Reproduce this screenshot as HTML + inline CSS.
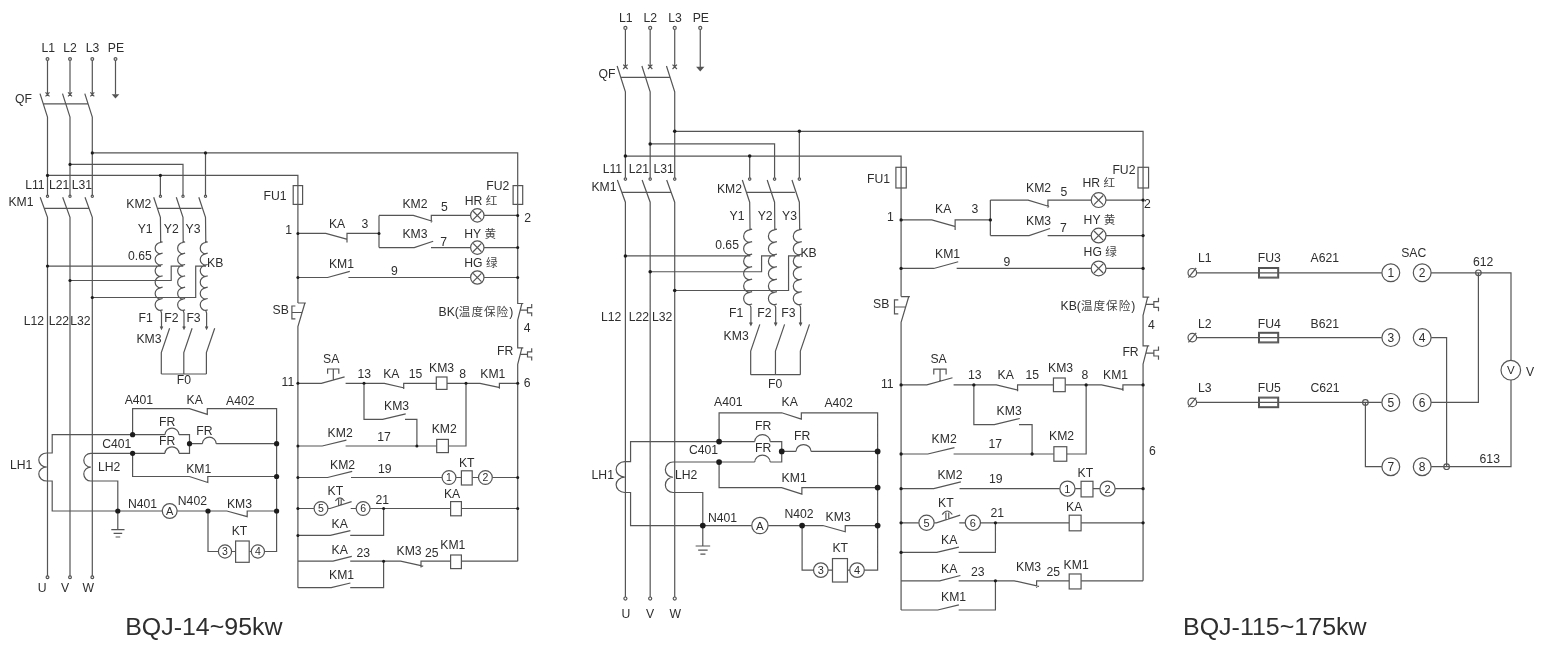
<!DOCTYPE html>
<html lang="zh"><head><meta charset="utf-8"><title>BQJ wiring diagram</title>
<style>
html,body{margin:0;padding:0;background:#fff;}
body{width:1553px;height:655px;overflow:hidden;}
svg{display:block;will-change:transform;}
svg text{font-family:"Liberation Sans","Noto Sans CJK SC",sans-serif;fill:#2e2e2e;}
svg .cj{font-size:11.6px;font-weight:400;letter-spacing:1px;fill:#444;}
</style></head><body>
<svg width="1553" height="655" viewBox="0 0 1553 655">
<rect width="1553" height="655" fill="#ffffff"/>
<path d="M47.5 60.4 L47.5 94.3 M45.5 92.3 L49.5 96.3 M45.5 96.3 L49.5 92.3 M40 93.6 L47.5 117 L47.5 196 M40.2 197.2 L47.5 217.3 L47.5 576 M70 60.4 L70 94.3 M68 92.3 L72 96.3 M68 96.3 L72 92.3 M62.5 93.6 L70 117 L70 196 M62.7 197.2 L70 217.3 L70 576 M92.3 60.4 L92.3 94.3 M90.3 92.3 L94.3 96.3 M90.3 96.3 L94.3 92.3 M84.8 93.6 L92.3 117 L92.3 196 M85 197.2 L92.3 217.3 L92.3 576 M43.5 103.9 L87.5 103.9 M44 208.4 L89.5 208.4 M115.5 60.4 L115.5 94.5 M92.3 152.9 L517.7 152.9 L517.7 185.6 M70 164.4 L183 164.4 L183 196 M47.5 175.4 L297.9 175.4 L297.9 303 M160.4 175.4 L160.4 196 M205.5 152.9 L205.5 196 M153.7 197.2 L160.4 217.3 L160.7 242.5 M176.3 197.2 L183 217.3 L183.2 242.5 M198.8 197.2 L205.5 217.3 L205.8 242.5 M157 208.4 L201.5 208.4 M160.7 242.5 a5.8 5.67 0 0 0 0 11.33 a5.8 5.67 0 0 0 0 11.33 a5.8 5.67 0 0 0 0 11.33 a5.8 5.67 0 0 0 0 11.33 a5.8 5.67 0 0 0 0 11.33 a5.8 5.67 0 0 0 0 11.33 M159.9 242.5 L162.6 241.8 M159.9 253.83 L162.6 253.13 M159.9 265.17 L162.6 264.47 M159.9 276.5 L162.6 275.8 M159.9 287.83 L162.6 287.13 M159.9 299.17 L162.6 298.47 M159.9 310.5 L162.6 309.8 M160.7 310.5 L161.5 313 L161.5 328.5 M160.3 326.6 L161.5 329 L162.7 326.6 M169.6 328.3 L161.3 352.6 L161.3 374 M183.2 242.5 a5.8 5.67 0 0 0 0 11.33 a5.8 5.67 0 0 0 0 11.33 a5.8 5.67 0 0 0 0 11.33 a5.8 5.67 0 0 0 0 11.33 a5.8 5.67 0 0 0 0 11.33 a5.8 5.67 0 0 0 0 11.33 M182.4 242.5 L185.1 241.8 M182.4 253.83 L185.1 253.13 M182.4 265.17 L185.1 264.47 M182.4 276.5 L185.1 275.8 M182.4 287.83 L185.1 287.13 M182.4 299.17 L185.1 298.47 M182.4 310.5 L185.1 309.8 M183.2 310.5 L184 313 L184 328.5 M182.8 326.6 L184 329 L185.2 326.6 M192.1 328.3 L183.8 352.6 L183.8 374 M205.8 242.5 a5.8 5.67 0 0 0 0 11.33 a5.8 5.67 0 0 0 0 11.33 a5.8 5.67 0 0 0 0 11.33 a5.8 5.67 0 0 0 0 11.33 a5.8 5.67 0 0 0 0 11.33 a5.8 5.67 0 0 0 0 11.33 M205 242.5 L207.7 241.8 M205 253.83 L207.7 253.13 M205 265.17 L207.7 264.47 M205 276.5 L207.7 275.8 M205 287.83 L207.7 287.13 M205 299.17 L207.7 298.47 M205 310.5 L207.7 309.8 M205.8 310.5 L206.6 313 L206.6 328.5 M205.4 326.6 L206.6 329 L207.8 326.6 M214.7 328.3 L206.4 352.6 L206.4 374 M161.3 374 L206.4 374 M47.5 266.1 L161 266.1 M70 280.5 L171.2 280.5 L171.2 266.1 L183.3 266.1 M92.3 297.5 L195.7 297.5 L195.7 266.1 L206 266.1 M132.6 434.7 L132.6 408.6 L189.5 408.6 L207.3 414.4 L207.3 408.6 L276.6 408.6 L276.6 551.5 L264.4 551.5 M132.6 434.7 L52.2 434.7 L52.2 453 L46.8 453 M46.8 453 a8 7 0 0 0 0 14 a8 7 0 0 0 0 14 M46.8 481 L52.2 481 L52.2 511 L162.2 511 M132.6 434.7 L165 434.7 M165 434.7 a7 6.5 0 0 1 14 0 M179 434.7 L189.5 434.7 L189.5 453.3 L179 453.3 M165 453.3 a7 6.5 0 0 1 14 0 M165 453.3 L90.8 453.3 M90.8 453.3 a7 6.92 0 0 0 0 13.85 a7 6.92 0 0 0 0 13.85 M90.8 481 L117.8 481 L117.8 529.6 M111.3 529.6 L124.5 529.6 M113.6 533.3 L122.2 533.3 M115.6 537 L120.2 537 M189.5 443.7 L202.4 443.7 M202.4 443.7 a6.9 6.5 0 0 1 13.8 0 M216.2 443.7 L276.6 443.7 M132.6 453.3 L132.6 476.5 L189.4 476.5 L207.8 482.5 L207.8 476.5 L276.6 476.5 M177.2 511 L226.9 511 L247.2 516.6 L247.2 511 L276.6 511 M208 511 L208 551.5 L218.6 551.5 M231.4 551.5 L235.6 551.5 M249.2 551.5 L251.5 551.5 M517.7 185.6 L517.7 303.5 L523.3 303.5 M521.9 303.5 L517.7 320 L517.7 347.8 L523.3 347.8 M521.9 347.8 L517.7 364.3 L517.7 561.2 M520 310.2 L527.5 310.2 M531.7 304.1 L531.7 307.6 L527.5 307.6 L527.5 312.8 L531.7 312.8 L531.7 316.3 M520 354.4 L527.5 354.4 M531.7 348.3 L531.7 351.8 L527.5 351.8 L527.5 357 L531.7 357 L531.7 360.5 M297.9 303 L305.9 303 M304.9 303 L297.9 326.5 L297.9 587.7 M295.4 306 L291.9 306 L291.9 318.8 L295.4 318.8 M291.9 312.5 L302.1 312.5 M297.9 233.4 L325.8 233.4 L346.6 239.2 M347 242.6 L347 233.4 L379 233.4 M379 215.4 L379 247.6 M379 215.4 L413.3 215.4 L432.4 221.2 M431.3 222.4 L431.3 215.4 L470.6 215.4 M484 215.4 L517.7 215.4 M379 247.6 L414.2 247.6 L433.2 241.2 M431 247.6 L470.6 247.6 M484 247.6 L517.7 247.6 M297.9 277.5 L327.6 277.5 L349.8 271.4 M348.4 277.5 L470.6 277.5 M484 277.5 L517.7 277.5 M297.9 383.3 L321.3 383.3 L344.6 376.8 M345.6 383.3 L384.4 383.3 L404.4 388 M403.7 389 L403.7 383.3 L436.3 383.3 M447 383.3 L480 383.3 L500 387.6 M499.4 388.8 L499.4 383.3 L517.7 383.3 M327.6 373.8 L327.6 369 L338.8 369 L338.8 373.8 M333.3 369 L333.3 379.8 M364 383.3 L364 419.3 L382.6 419.3 L405.7 413.8 M405 419.3 L416.9 419.3 L416.9 446 M297.9 446 L322.2 446 L346.4 440.2 M345.6 446 L436.7 446 M448.4 446 L466 446 L466 383.3 M297.9 477.5 L327.6 477.5 L352.2 471.4 M351 477.5 L442 477.5 M456 477.5 L461.4 477.5 M472.2 477.5 L478.5 477.5 M492.3 477.5 L517.7 477.5 M297.9 508.5 L314 508.5 M328 508.5 L330 508.5 L351.6 501.6 M350.7 508.5 L356.2 508.5 M370 508.5 L450.6 508.5 M461.4 508.5 L517.7 508.5 M338.6 506 L338.6 499.2 M341.2 505.2 L341.2 499.2 M335.3 501 Q339.9 494.6 344.4 501 M297.9 535.4 L330.3 535.4 L350.4 530.6 M350.2 535.4 L383.6 535.4 L383.6 508.5 M297.9 561.2 L333 561.2 L351.8 556.4 M350.2 561.2 L400.6 561.2 L423.2 566.2 M421 567.4 L421 561.2 L450.6 561.2 M461.4 561.2 L517.7 561.2 M297.9 587.7 L331.2 587.7 L350.4 583 M350.2 587.7 L383.6 587.7 L383.6 561.2" fill="none" stroke="#555555" stroke-width="1.2" stroke-linecap="butt" stroke-linejoin="miter"/>
<circle cx="47.5" cy="59" r="1.4" fill="#fff" stroke="#555555" stroke-width="1.2"/>
<circle cx="47.5" cy="196.3" r="1.1" fill="#fff" stroke="#555555" stroke-width="1.2"/>
<circle cx="47.5" cy="577.3" r="1.4" fill="#fff" stroke="#555555" stroke-width="1.2"/>
<circle cx="70" cy="59" r="1.4" fill="#fff" stroke="#555555" stroke-width="1.2"/>
<circle cx="70" cy="196.3" r="1.1" fill="#fff" stroke="#555555" stroke-width="1.2"/>
<circle cx="70" cy="577.3" r="1.4" fill="#fff" stroke="#555555" stroke-width="1.2"/>
<circle cx="92.3" cy="59" r="1.4" fill="#fff" stroke="#555555" stroke-width="1.2"/>
<circle cx="92.3" cy="196.3" r="1.1" fill="#fff" stroke="#555555" stroke-width="1.2"/>
<circle cx="92.3" cy="577.3" r="1.4" fill="#fff" stroke="#555555" stroke-width="1.2"/>
<circle cx="115.5" cy="59" r="1.4" fill="#fff" stroke="#555555" stroke-width="1.2"/>
<path d="M111.7 94.3 L119.3 94.3 L115.5 98.6 Z" fill="#555555"/>
<circle cx="92.3" cy="152.9" r="1.6" fill="#1c1c1c"/>
<circle cx="205.5" cy="152.9" r="1.6" fill="#1c1c1c"/>
<circle cx="70" cy="164.4" r="1.6" fill="#1c1c1c"/>
<circle cx="47.5" cy="175.4" r="1.6" fill="#1c1c1c"/>
<circle cx="160.4" cy="175.4" r="1.6" fill="#1c1c1c"/>
<circle cx="160.4" cy="196.3" r="1.1" fill="#fff" stroke="#555555" stroke-width="1.2"/>
<circle cx="183" cy="196.3" r="1.1" fill="#fff" stroke="#555555" stroke-width="1.2"/>
<circle cx="205.5" cy="196.3" r="1.1" fill="#fff" stroke="#555555" stroke-width="1.2"/>
<circle cx="47.5" cy="266.1" r="1.6" fill="#1c1c1c"/>
<circle cx="70" cy="280.5" r="1.6" fill="#1c1c1c"/>
<circle cx="92.3" cy="297.5" r="1.6" fill="#1c1c1c"/>
<rect x="235.6" y="541" width="13.6" height="21.3" fill="#fff" stroke="#555555" stroke-width="1.2"/>
<circle cx="169.7" cy="511" r="7.4" fill="#fff" stroke="#555555" stroke-width="1.2"/>
<circle cx="225" cy="551.5" r="6.6" fill="#fff" stroke="#555555" stroke-width="1.2"/>
<circle cx="257.9" cy="551.5" r="6.6" fill="#fff" stroke="#555555" stroke-width="1.2"/>
<circle cx="132.6" cy="434.7" r="2.6" fill="#1c1c1c"/>
<circle cx="132.6" cy="453.3" r="2.6" fill="#1c1c1c"/>
<circle cx="189.5" cy="443.7" r="2.6" fill="#1c1c1c"/>
<circle cx="276.6" cy="443.7" r="2.6" fill="#1c1c1c"/>
<circle cx="276.6" cy="476.5" r="2.6" fill="#1c1c1c"/>
<circle cx="276.6" cy="511" r="2.6" fill="#1c1c1c"/>
<circle cx="208" cy="511" r="2.6" fill="#1c1c1c"/>
<circle cx="117.8" cy="511" r="2.6" fill="#1c1c1c"/>
<rect x="293.2" y="185.6" width="9.4" height="18.8" fill="none" stroke="#555555" stroke-width="1.2"/>
<rect x="513.1" y="185.6" width="9.6" height="18.8" fill="none" stroke="#555555" stroke-width="1.2"/>
<circle cx="477.3" cy="215.4" r="6.7" fill="#fff" stroke="#555555" stroke-width="1.2"/>
<path d="M473.15 211.25 L481.45 219.55 M473.15 219.55 L481.45 211.25" stroke="#555555" stroke-width="1.2" fill="none"/>
<circle cx="477.3" cy="247.6" r="6.7" fill="#fff" stroke="#555555" stroke-width="1.2"/>
<path d="M473.15 243.45 L481.45 251.75 M473.15 251.75 L481.45 243.45" stroke="#555555" stroke-width="1.2" fill="none"/>
<circle cx="477.3" cy="277.5" r="6.7" fill="#fff" stroke="#555555" stroke-width="1.2"/>
<path d="M473.15 273.35 L481.45 281.65 M473.15 281.65 L481.45 273.35" stroke="#555555" stroke-width="1.2" fill="none"/>
<rect x="436.3" y="377" width="10.7" height="12.4" fill="#fff" stroke="#555555" stroke-width="1.2"/>
<rect x="436.7" y="439.4" width="11.7" height="13.2" fill="#fff" stroke="#555555" stroke-width="1.2"/>
<rect x="461.4" y="470.8" width="10.8" height="14.2" fill="#fff" stroke="#555555" stroke-width="1.2"/>
<circle cx="449" cy="477.5" r="6.9" fill="#fff" stroke="#555555" stroke-width="1.2"/>
<circle cx="485.4" cy="477.5" r="6.9" fill="#fff" stroke="#555555" stroke-width="1.2"/>
<rect x="450.6" y="501.6" width="10.8" height="14.2" fill="#fff" stroke="#555555" stroke-width="1.2"/>
<circle cx="321" cy="508.5" r="6.9" fill="#fff" stroke="#555555" stroke-width="1.2"/>
<circle cx="363.1" cy="508.5" r="6.9" fill="#fff" stroke="#555555" stroke-width="1.2"/>
<rect x="450.6" y="555" width="10.8" height="13.6" fill="#fff" stroke="#555555" stroke-width="1.2"/>
<circle cx="297.9" cy="233.4" r="1.5" fill="#1c1c1c"/>
<circle cx="297.9" cy="277.5" r="1.5" fill="#1c1c1c"/>
<circle cx="297.9" cy="383.3" r="1.5" fill="#1c1c1c"/>
<circle cx="297.9" cy="446" r="1.5" fill="#1c1c1c"/>
<circle cx="297.9" cy="477.5" r="1.5" fill="#1c1c1c"/>
<circle cx="297.9" cy="508.5" r="1.5" fill="#1c1c1c"/>
<circle cx="297.9" cy="535.4" r="1.5" fill="#1c1c1c"/>
<circle cx="517.7" cy="215.4" r="1.5" fill="#1c1c1c"/>
<circle cx="517.7" cy="247.6" r="1.5" fill="#1c1c1c"/>
<circle cx="517.7" cy="277.5" r="1.5" fill="#1c1c1c"/>
<circle cx="517.7" cy="383.3" r="1.5" fill="#1c1c1c"/>
<circle cx="517.7" cy="477.5" r="1.5" fill="#1c1c1c"/>
<circle cx="517.7" cy="508.5" r="1.5" fill="#1c1c1c"/>
<circle cx="379" cy="233.4" r="1.5" fill="#1c1c1c"/>
<circle cx="364" cy="383.3" r="1.5" fill="#1c1c1c"/>
<circle cx="466" cy="383.3" r="1.5" fill="#1c1c1c"/>
<circle cx="416.9" cy="446" r="1.5" fill="#1c1c1c"/>
<circle cx="383.6" cy="508.5" r="1.5" fill="#1c1c1c"/>
<circle cx="383.6" cy="561.2" r="1.5" fill="#1c1c1c"/>
<path d="M625.4 29.45 L625.4 66.77 M623.19 64.57 L627.6 68.97 M623.19 68.97 L627.6 64.57 M617.14 66 L625.4 91.76 L625.4 178.74 M617.36 180.06 L625.4 202.19 L625.4 597.1 M650.17 29.45 L650.17 66.77 M647.97 64.57 L652.37 68.97 M647.97 68.97 L652.37 64.57 M641.91 66 L650.17 91.76 L650.17 178.74 M642.13 180.06 L650.17 202.19 L650.17 597.1 M674.72 29.45 L674.72 66.77 M672.52 64.57 L676.92 68.97 M672.52 68.97 L676.92 64.57 M666.46 66 L674.72 91.76 L674.72 178.74 M666.68 180.06 L674.72 202.19 L674.72 597.1 M620.99 77.34 L669.43 77.34 M621.54 192.39 L671.64 192.39 M700.26 29.45 L700.26 66.99 M674.72 131.29 L1143.07 131.29 L1143.07 167.29 M650.17 143.95 L774.58 143.95 L774.58 178.74 M625.4 156.06 L901.08 156.06 L901.08 296.54 M749.69 156.06 L749.69 178.74 M799.35 131.29 L799.35 178.74 M742.32 180.06 L749.69 202.19 L750.02 229.93 M767.2 180.06 L774.58 202.19 L774.8 229.93 M791.97 180.06 L799.35 202.19 L799.68 229.93 M745.95 192.39 L794.94 192.39 M750.02 229.93 a6.39 6.24 0 0 0 0 12.48 a6.39 6.24 0 0 0 0 12.48 a6.39 6.24 0 0 0 0 12.48 a6.39 6.24 0 0 0 0 12.48 a6.39 6.24 0 0 0 0 12.48 a6.39 6.24 0 0 0 0 12.48 M749.14 229.93 L752.12 229.16 M749.14 242.41 L752.12 241.64 M749.14 254.89 L752.12 254.12 M749.14 267.37 L752.12 266.59 M749.14 279.84 L752.12 279.07 M749.14 292.32 L752.12 291.55 M749.14 304.8 L752.12 304.03 M750.02 304.8 L750.91 307.55 L750.91 324.62 M749.58 322.52 L750.91 325.17 L752.23 322.52 M759.82 324.4 L750.68 351.15 L750.68 374.71 M774.8 229.93 a6.39 6.24 0 0 0 0 12.48 a6.39 6.24 0 0 0 0 12.48 a6.39 6.24 0 0 0 0 12.48 a6.39 6.24 0 0 0 0 12.48 a6.39 6.24 0 0 0 0 12.48 a6.39 6.24 0 0 0 0 12.48 M773.92 229.93 L776.89 229.16 M773.92 242.41 L776.89 241.64 M773.92 254.89 L776.89 254.12 M773.92 267.37 L776.89 266.59 M773.92 279.84 L776.89 279.07 M773.92 292.32 L776.89 291.55 M773.92 304.8 L776.89 304.03 M774.8 304.8 L775.68 307.55 L775.68 324.62 M774.36 322.52 L775.68 325.17 L777 322.52 M784.59 324.4 L775.46 351.15 L775.46 374.71 M799.68 229.93 a6.39 6.24 0 0 0 0 12.48 a6.39 6.24 0 0 0 0 12.48 a6.39 6.24 0 0 0 0 12.48 a6.39 6.24 0 0 0 0 12.48 a6.39 6.24 0 0 0 0 12.48 a6.39 6.24 0 0 0 0 12.48 M798.8 229.93 L801.77 229.16 M798.8 242.41 L801.77 241.64 M798.8 254.89 L801.77 254.12 M798.8 267.37 L801.77 266.59 M798.8 279.84 L801.77 279.07 M798.8 292.32 L801.77 291.55 M798.8 304.8 L801.77 304.03 M799.68 304.8 L800.56 307.55 L800.56 324.62 M799.24 322.52 L800.56 325.17 L801.88 322.52 M809.48 324.4 L800.34 351.15 L800.34 374.71 M750.68 374.71 L800.34 374.71 M625.4 255.92 L750.35 255.92 M650.17 271.77 L761.58 271.77 L761.58 255.92 L774.91 255.92 M674.72 290.49 L788.56 290.49 L788.56 255.92 L799.9 255.92 M719.09 441.54 L719.09 412.8 L781.73 412.8 L801.33 419.19 L801.33 412.8 L877.63 412.8 L877.63 570.13 L864.19 570.13 M719.09 441.54 L630.57 441.54 L630.57 461.68 L624.62 461.68 M624.62 461.68 a8.81 7.71 0 0 0 0 15.41 a8.81 7.71 0 0 0 0 15.41 M624.62 492.51 L630.57 492.51 L630.57 525.54 L751.68 525.54 M719.09 441.54 L754.76 441.54 M754.76 441.54 a7.71 7.16 0 0 1 15.41 0 M770.17 441.54 L781.73 441.54 L781.73 462.02 L770.17 462.02 M754.76 462.02 a7.71 7.16 0 0 1 15.41 0 M754.76 462.02 L673.07 462.02 M673.07 462.02 a7.71 7.62 0 0 0 0 15.25 a7.71 7.62 0 0 0 0 15.25 M673.07 492.51 L702.79 492.51 L702.79 546.02 M695.64 546.02 L710.17 546.02 M698.17 550.09 L707.64 550.09 M700.37 554.17 L705.44 554.17 M781.73 451.45 L795.93 451.45 M795.93 451.45 a7.6 7.16 0 0 1 15.19 0 M811.13 451.45 L877.63 451.45 M719.09 462.02 L719.09 487.56 L781.62 487.56 L801.88 494.16 L801.88 487.56 L877.63 487.56 M768.19 525.54 L822.91 525.54 L845.26 531.71 L845.26 525.54 L877.63 525.54 M802.1 525.54 L802.1 570.13 L813.77 570.13 M827.86 570.13 L832.49 570.13 M847.46 570.13 L849.99 570.13 M1143.07 167.29 L1143.07 297.09 L1149.23 297.09 M1147.69 297.09 L1143.07 315.26 L1143.07 345.86 L1149.23 345.86 M1147.69 345.86 L1143.07 364.03 L1143.07 580.81 M1145.6 304.47 L1153.86 304.47 M1158.48 297.75 L1158.48 301.61 L1153.86 301.61 L1153.86 307.33 L1158.48 307.33 L1158.48 311.18 M1145.6 353.13 L1153.86 353.13 M1158.48 346.41 L1158.48 350.27 L1153.86 350.27 L1153.86 355.99 L1158.48 355.99 L1158.48 359.85 M901.08 296.54 L909.88 296.54 M908.78 296.54 L901.08 322.41 L901.08 609.98 M898.32 299.84 L894.47 299.84 L894.47 313.94 L898.32 313.94 M894.47 307 L905.7 307 M901.08 219.91 L931.79 219.91 L954.69 226.3 M955.13 230.04 L955.13 219.91 L990.36 219.91 M990.36 200.1 L990.36 235.55 M990.36 200.1 L1028.13 200.1 L1049.16 206.48 M1047.94 207.8 L1047.94 200.1 L1091.21 200.1 M1105.96 200.1 L1143.07 200.1 M990.36 235.55 L1029.12 235.55 L1050.04 228.5 M1047.61 235.55 L1091.21 235.55 M1105.96 235.55 L1143.07 235.55 M901.08 268.47 L933.77 268.47 L958.22 261.75 M956.67 268.47 L1091.21 268.47 M1105.96 268.47 L1143.07 268.47 M901.08 384.95 L926.84 384.95 L952.49 377.79 M953.59 384.95 L996.31 384.95 L1018.33 390.12 M1017.56 391.22 L1017.56 384.95 L1053.45 384.95 M1065.23 384.95 L1101.56 384.95 L1123.58 389.68 M1122.92 391 L1122.92 384.95 L1143.07 384.95 M933.77 374.49 L933.77 369.2 L946.11 369.2 L946.11 374.49 M940.05 369.2 L940.05 381.09 M973.85 384.95 L973.85 424.58 L994.33 424.58 L1019.76 418.53 M1018.99 424.58 L1032.09 424.58 L1032.09 453.98 M901.08 453.98 L927.83 453.98 L954.47 447.59 M953.59 453.98 L1053.89 453.98 M1066.77 453.98 L1086.15 453.98 L1086.15 384.95 M901.08 488.66 L933.77 488.66 L960.86 481.94 M959.54 488.66 L1059.72 488.66 M1075.14 488.66 L1081.08 488.66 M1092.97 488.66 L1099.91 488.66 M1115.1 488.66 L1143.07 488.66 M901.08 522.79 L918.8 522.79 M934.21 522.79 L936.42 522.79 L960.2 515.19 M959.21 522.79 L965.26 522.79 M980.46 522.79 L1069.19 522.79 M1081.08 522.79 L1143.07 522.79 M945.89 520.04 L945.89 512.55 M948.75 519.15 L948.75 512.55 M942.25 514.53 Q947.32 507.48 952.27 514.53 M901.08 552.4 L936.75 552.4 L958.88 547.12 M958.66 552.4 L995.43 552.4 L995.43 522.79 M901.08 580.81 L939.72 580.81 L960.42 575.52 M958.66 580.81 L1014.14 580.81 L1039.03 586.31 M1036.6 587.63 L1036.6 580.81 L1069.19 580.81 M1081.08 580.81 L1143.07 580.81 M901.08 609.98 L937.74 609.98 L958.88 604.81 M958.66 609.98 L995.43 609.98 L995.43 580.81" fill="none" stroke="#555555" stroke-width="1.2" stroke-linecap="butt" stroke-linejoin="miter"/>
<circle cx="625.4" cy="27.91" r="1.54" fill="#fff" stroke="#555555" stroke-width="1.2"/>
<circle cx="625.4" cy="179.07" r="1.21" fill="#fff" stroke="#555555" stroke-width="1.2"/>
<circle cx="625.4" cy="598.53" r="1.54" fill="#fff" stroke="#555555" stroke-width="1.2"/>
<circle cx="650.17" cy="27.91" r="1.54" fill="#fff" stroke="#555555" stroke-width="1.2"/>
<circle cx="650.17" cy="179.07" r="1.21" fill="#fff" stroke="#555555" stroke-width="1.2"/>
<circle cx="650.17" cy="598.53" r="1.54" fill="#fff" stroke="#555555" stroke-width="1.2"/>
<circle cx="674.72" cy="27.91" r="1.54" fill="#fff" stroke="#555555" stroke-width="1.2"/>
<circle cx="674.72" cy="179.07" r="1.21" fill="#fff" stroke="#555555" stroke-width="1.2"/>
<circle cx="674.72" cy="598.53" r="1.54" fill="#fff" stroke="#555555" stroke-width="1.2"/>
<circle cx="700.26" cy="27.91" r="1.54" fill="#fff" stroke="#555555" stroke-width="1.2"/>
<path d="M696.08 66.77 L704.44 66.77 L700.26 71.5 Z" fill="#555555"/>
<circle cx="674.72" cy="131.29" r="1.76" fill="#1c1c1c"/>
<circle cx="799.35" cy="131.29" r="1.76" fill="#1c1c1c"/>
<circle cx="650.17" cy="143.95" r="1.76" fill="#1c1c1c"/>
<circle cx="625.4" cy="156.06" r="1.76" fill="#1c1c1c"/>
<circle cx="749.69" cy="156.06" r="1.76" fill="#1c1c1c"/>
<circle cx="749.69" cy="179.07" r="1.21" fill="#fff" stroke="#555555" stroke-width="1.2"/>
<circle cx="774.58" cy="179.07" r="1.21" fill="#fff" stroke="#555555" stroke-width="1.2"/>
<circle cx="799.35" cy="179.07" r="1.21" fill="#fff" stroke="#555555" stroke-width="1.2"/>
<circle cx="625.4" cy="255.92" r="1.76" fill="#1c1c1c"/>
<circle cx="650.17" cy="271.77" r="1.76" fill="#1c1c1c"/>
<circle cx="674.72" cy="290.49" r="1.76" fill="#1c1c1c"/>
<rect x="832.49" y="558.57" width="14.97" height="23.45" fill="#fff" stroke="#555555" stroke-width="1.2"/>
<circle cx="759.93" cy="525.54" r="8.15" fill="#fff" stroke="#555555" stroke-width="1.2"/>
<circle cx="820.82" cy="570.13" r="7.27" fill="#fff" stroke="#555555" stroke-width="1.2"/>
<circle cx="857.04" cy="570.13" r="7.27" fill="#fff" stroke="#555555" stroke-width="1.2"/>
<circle cx="719.09" cy="441.54" r="2.86" fill="#1c1c1c"/>
<circle cx="719.09" cy="462.02" r="2.86" fill="#1c1c1c"/>
<circle cx="781.73" cy="451.45" r="2.86" fill="#1c1c1c"/>
<circle cx="877.63" cy="451.45" r="2.86" fill="#1c1c1c"/>
<circle cx="877.63" cy="487.56" r="2.86" fill="#1c1c1c"/>
<circle cx="877.63" cy="525.54" r="2.86" fill="#1c1c1c"/>
<circle cx="802.1" cy="525.54" r="2.86" fill="#1c1c1c"/>
<circle cx="702.79" cy="525.54" r="2.86" fill="#1c1c1c"/>
<rect x="895.9" y="167.29" width="10.35" height="20.7" fill="none" stroke="#555555" stroke-width="1.2"/>
<rect x="1138" y="167.29" width="10.57" height="20.7" fill="none" stroke="#555555" stroke-width="1.2"/>
<circle cx="1098.59" cy="200.1" r="7.38" fill="#fff" stroke="#555555" stroke-width="1.2"/>
<path d="M1094.01 195.52 L1103.16 204.67 M1094.01 204.67 L1103.16 195.52" stroke="#555555" stroke-width="1.2" fill="none"/>
<circle cx="1098.59" cy="235.55" r="7.38" fill="#fff" stroke="#555555" stroke-width="1.2"/>
<path d="M1094.01 230.97 L1103.16 240.12 M1094.01 240.12 L1103.16 230.97" stroke="#555555" stroke-width="1.2" fill="none"/>
<circle cx="1098.59" cy="268.47" r="7.38" fill="#fff" stroke="#555555" stroke-width="1.2"/>
<path d="M1094.01 263.89 L1103.16 273.04 M1094.01 273.04 L1103.16 263.89" stroke="#555555" stroke-width="1.2" fill="none"/>
<rect x="1053.45" y="378.01" width="11.78" height="13.65" fill="#fff" stroke="#555555" stroke-width="1.2"/>
<rect x="1053.89" y="446.71" width="12.88" height="14.53" fill="#fff" stroke="#555555" stroke-width="1.2"/>
<rect x="1081.08" y="481.28" width="11.89" height="15.63" fill="#fff" stroke="#555555" stroke-width="1.2"/>
<circle cx="1067.43" cy="488.66" r="7.6" fill="#fff" stroke="#555555" stroke-width="1.2"/>
<circle cx="1107.51" cy="488.66" r="7.6" fill="#fff" stroke="#555555" stroke-width="1.2"/>
<rect x="1069.19" y="515.19" width="11.89" height="15.63" fill="#fff" stroke="#555555" stroke-width="1.2"/>
<circle cx="926.51" cy="522.79" r="7.6" fill="#fff" stroke="#555555" stroke-width="1.2"/>
<circle cx="972.86" cy="522.79" r="7.6" fill="#fff" stroke="#555555" stroke-width="1.2"/>
<rect x="1069.19" y="573.98" width="11.89" height="14.97" fill="#fff" stroke="#555555" stroke-width="1.2"/>
<circle cx="901.08" cy="219.91" r="1.65" fill="#1c1c1c"/>
<circle cx="901.08" cy="268.47" r="1.65" fill="#1c1c1c"/>
<circle cx="901.08" cy="384.95" r="1.65" fill="#1c1c1c"/>
<circle cx="901.08" cy="453.98" r="1.65" fill="#1c1c1c"/>
<circle cx="901.08" cy="488.66" r="1.65" fill="#1c1c1c"/>
<circle cx="901.08" cy="522.79" r="1.65" fill="#1c1c1c"/>
<circle cx="901.08" cy="552.4" r="1.65" fill="#1c1c1c"/>
<circle cx="1143.07" cy="200.1" r="1.65" fill="#1c1c1c"/>
<circle cx="1143.07" cy="235.55" r="1.65" fill="#1c1c1c"/>
<circle cx="1143.07" cy="268.47" r="1.65" fill="#1c1c1c"/>
<circle cx="1143.07" cy="384.95" r="1.65" fill="#1c1c1c"/>
<circle cx="1143.07" cy="488.66" r="1.65" fill="#1c1c1c"/>
<circle cx="1143.07" cy="522.79" r="1.65" fill="#1c1c1c"/>
<circle cx="990.36" cy="219.91" r="1.65" fill="#1c1c1c"/>
<circle cx="973.85" cy="384.95" r="1.65" fill="#1c1c1c"/>
<circle cx="1086.15" cy="384.95" r="1.65" fill="#1c1c1c"/>
<circle cx="1032.09" cy="453.98" r="1.65" fill="#1c1c1c"/>
<circle cx="995.43" cy="522.79" r="1.65" fill="#1c1c1c"/>
<circle cx="995.43" cy="580.81" r="1.65" fill="#1c1c1c"/>
<path d="M1196.7 272.8 L1381.8 272.8 M1196.7 337.6 L1381.8 337.6 M1196.7 402.4 L1381.8 402.4 M1431.1 272.8 L1511 272.8 L1511 360.4 M1511 380 L1511 466.7 L1431.1 466.7 M1431.1 337.6 L1446.6 337.6 L1446.6 466.7 M1431.1 402.4 L1478.4 402.4 L1478.4 272.8 M1365.4 402.4 L1365.4 466.7 L1381.9 466.7" fill="none" stroke="#555555" stroke-width="1.2" stroke-linecap="butt" stroke-linejoin="miter"/>
<circle cx="1192.3" cy="272.8" r="4.3" fill="#fff" stroke="#555555" stroke-width="1.2"/>
<path d="M1188.4 277.6 L1196.2 268" stroke="#555555" stroke-width="1.2"/>
<rect x="1258.6" y="267.6" width="20" height="10.4" fill="none" stroke="#555555" stroke-width="1.2"/>
<rect x="1259.4" y="268.4" width="18.4" height="8.8" fill="none" stroke="#555555" stroke-width="1.2"/>
<circle cx="1192.3" cy="337.6" r="4.3" fill="#fff" stroke="#555555" stroke-width="1.2"/>
<path d="M1188.4 342.4 L1196.2 332.8" stroke="#555555" stroke-width="1.2"/>
<rect x="1258.6" y="332.4" width="20" height="10.4" fill="none" stroke="#555555" stroke-width="1.2"/>
<rect x="1259.4" y="333.2" width="18.4" height="8.8" fill="none" stroke="#555555" stroke-width="1.2"/>
<circle cx="1192.3" cy="402.4" r="4.3" fill="#fff" stroke="#555555" stroke-width="1.2"/>
<path d="M1188.4 407.2 L1196.2 397.6" stroke="#555555" stroke-width="1.2"/>
<rect x="1258.6" y="397.2" width="20" height="10.4" fill="none" stroke="#555555" stroke-width="1.2"/>
<rect x="1259.4" y="398" width="18.4" height="8.8" fill="none" stroke="#555555" stroke-width="1.2"/>
<circle cx="1390.8" cy="272.8" r="8.9" fill="#fff" stroke="#555555" stroke-width="1.2"/>
<circle cx="1422.2" cy="272.8" r="8.9" fill="#fff" stroke="#555555" stroke-width="1.2"/>
<circle cx="1390.8" cy="337.6" r="8.9" fill="#fff" stroke="#555555" stroke-width="1.2"/>
<circle cx="1422.2" cy="337.6" r="8.9" fill="#fff" stroke="#555555" stroke-width="1.2"/>
<circle cx="1390.8" cy="402.4" r="8.9" fill="#fff" stroke="#555555" stroke-width="1.2"/>
<circle cx="1422.2" cy="402.4" r="8.9" fill="#fff" stroke="#555555" stroke-width="1.2"/>
<circle cx="1390.8" cy="466.7" r="8.9" fill="#fff" stroke="#555555" stroke-width="1.2"/>
<circle cx="1422.2" cy="466.7" r="8.9" fill="#fff" stroke="#555555" stroke-width="1.2"/>
<circle cx="1510.8" cy="370.2" r="9.8" fill="#fff" stroke="#555555" stroke-width="1.2"/>
<circle cx="1478.4" cy="272.8" r="2.8" fill="none" stroke="#555555" stroke-width="1.2"/>
<circle cx="1365.4" cy="402.4" r="2.8" fill="none" stroke="#555555" stroke-width="1.2"/>
<circle cx="1446.6" cy="466.7" r="2.8" fill="none" stroke="#555555" stroke-width="1.2"/>
<text x="41.5" y="52.3" font-size="12.2">L1</text>
<text x="63.3" y="52.3" font-size="12.2">L2</text>
<text x="85.7" y="52.3" font-size="12.2">L3</text>
<text x="107.8" y="52.3" font-size="12.2">PE</text>
<text x="15.1" y="103.2" font-size="12.2">QF</text>
<text x="25.2" y="189" font-size="12.2">L11</text>
<text x="49" y="189" font-size="12.2">L21</text>
<text x="71.7" y="189" font-size="12.2">L31</text>
<text x="8.4" y="206.4" font-size="12.2">KM1</text>
<text x="126.3" y="208" font-size="12.2">KM2</text>
<text x="137.7" y="232.8" font-size="12.2">Y1</text>
<text x="163.8" y="232.8" font-size="12.2">Y2</text>
<text x="185.6" y="232.8" font-size="12.2">Y3</text>
<text x="128" y="259.9" font-size="12.2">0.65</text>
<text x="207" y="267.3" font-size="12.2">KB</text>
<text x="138.6" y="321.5" font-size="12.2">F1</text>
<text x="164.3" y="321.5" font-size="12.2">F2</text>
<text x="186.4" y="321.5" font-size="12.2">F3</text>
<text x="23.8" y="324.9" font-size="12.2">L12</text>
<text x="48.7" y="324.9" font-size="12.2">L22</text>
<text x="70.2" y="324.9" font-size="12.2">L32</text>
<text x="136.4" y="342.6" font-size="12.2">KM3</text>
<text x="176.7" y="384.3" font-size="12.2">F0</text>
<text x="124.7" y="404" font-size="12.2">A401</text>
<text x="186.5" y="403.7" font-size="12.2">KA</text>
<text x="226" y="405" font-size="12.2">A402</text>
<text x="159" y="426" font-size="12.2">FR</text>
<text x="196.2" y="434.7" font-size="12.2">FR</text>
<text x="159" y="445.3" font-size="12.2">FR</text>
<text x="102.2" y="447.9" font-size="12.2">C401</text>
<text x="97.9" y="470.8" font-size="12.2">LH2</text>
<text x="10" y="468.9" font-size="12.2">LH1</text>
<text x="186.2" y="472.7" font-size="12.2">KM1</text>
<text x="128" y="508.2" font-size="12.2">N401</text>
<text x="177.8" y="505.3" font-size="12.2">N402</text>
<text x="226.9" y="508.2" font-size="12.2">KM3</text>
<text x="231.7" y="535.4" font-size="12.2">KT</text>
<text x="37.8" y="591.7" font-size="12.2">U</text>
<text x="61" y="591.7" font-size="12.2">V</text>
<text x="82.4" y="591.7" font-size="12.2">W</text>
<text x="263.6" y="200" font-size="12.2">FU1</text>
<text x="486.3" y="189.6" font-size="12.2">FU2</text>
<text x="285.2" y="234.1" font-size="12.2">1</text>
<text x="328.9" y="227.5" font-size="12.2">KA</text>
<text x="361.5" y="227.5" font-size="12.2">3</text>
<text x="402.4" y="208.2" font-size="12.2">KM2</text>
<text x="440.9" y="210.9" font-size="12.2">5</text>
<text x="464.7" y="204.6" font-size="12.2">HR <tspan class="cj">红</tspan></text>
<text x="524.2" y="222.4" font-size="12.2">2</text>
<text x="402.4" y="238.3" font-size="12.2">KM3</text>
<text x="440.3" y="245.5" font-size="12.2">7</text>
<text x="464.3" y="238.3" font-size="12.2">HY <tspan class="cj">黄</tspan></text>
<text x="328.9" y="268" font-size="12.2">KM1</text>
<text x="391" y="275.2" font-size="12.2">9</text>
<text x="464.3" y="267.4" font-size="12.2">HG <tspan class="cj">绿</tspan></text>
<text x="272.6" y="314" font-size="12.2">SB</text>
<text x="438.5" y="316" font-size="12.2">BK(<tspan class="cj">温度保险</tspan>)</text>
<text x="523.8" y="332" font-size="12.2">4</text>
<text x="497" y="355.4" font-size="12.2">FR</text>
<text x="323" y="363.4" font-size="12.2">SA</text>
<text x="281.6" y="386.3" font-size="12.2">11</text>
<text x="357.4" y="378.4" font-size="12.2">13</text>
<text x="383.2" y="377.5" font-size="12.2">KA</text>
<text x="408.8" y="378.4" font-size="12.2">15</text>
<text x="429" y="371.6" font-size="12.2">KM3</text>
<text x="459.2" y="378.4" font-size="12.2">8</text>
<text x="480.3" y="378.4" font-size="12.2">KM1</text>
<text x="523.8" y="387.2" font-size="12.2">6</text>
<text x="384" y="410" font-size="12.2">KM3</text>
<text x="327.6" y="436.5" font-size="12.2">KM2</text>
<text x="377.2" y="440.6" font-size="12.2">17</text>
<text x="431.7" y="433.2" font-size="12.2">KM2</text>
<text x="330" y="468.8" font-size="12.2">KM2</text>
<text x="378.1" y="473" font-size="12.2">19</text>
<text x="458.9" y="466.5" font-size="12.2">KT</text>
<text x="327.6" y="494.6" font-size="12.2">KT</text>
<text x="375.4" y="503.5" font-size="12.2">21</text>
<text x="443.9" y="498" font-size="12.2">KA</text>
<text x="331.6" y="527.8" font-size="12.2">KA</text>
<text x="331.6" y="553.8" font-size="12.2">KA</text>
<text x="356.5" y="557" font-size="12.2">23</text>
<text x="396.5" y="554.9" font-size="12.2">KM3</text>
<text x="425" y="557" font-size="12.2">25</text>
<text x="440.3" y="549.3" font-size="12.2">KM1</text>
<text x="329" y="579" font-size="12.2">KM1</text>
<text x="619" y="21.8" font-size="12.2">L1</text>
<text x="643.5" y="21.8" font-size="12.2">L2</text>
<text x="668.3" y="21.8" font-size="12.2">L3</text>
<text x="692.7" y="21.8" font-size="12.2">PE</text>
<text x="598.5" y="78" font-size="12.2">QF</text>
<text x="602.7" y="172.7" font-size="12.2">L11</text>
<text x="628.7" y="172.7" font-size="12.2">L21</text>
<text x="653.4" y="172.7" font-size="12.2">L31</text>
<text x="591.4" y="191.2" font-size="12.2">KM1</text>
<text x="716.9" y="192.7" font-size="12.2">KM2</text>
<text x="729.5" y="219.8" font-size="12.2">Y1</text>
<text x="757.7" y="219.8" font-size="12.2">Y2</text>
<text x="782" y="219.8" font-size="12.2">Y3</text>
<text x="715.2" y="249" font-size="12.2">0.65</text>
<text x="800.4" y="257.4" font-size="12.2">KB</text>
<text x="729" y="316.8" font-size="12.2">F1</text>
<text x="757.2" y="316.8" font-size="12.2">F2</text>
<text x="781.2" y="316.8" font-size="12.2">F3</text>
<text x="601" y="321" font-size="12.2">L12</text>
<text x="628.7" y="321" font-size="12.2">L22</text>
<text x="651.9" y="321" font-size="12.2">L32</text>
<text x="723.6" y="340.3" font-size="12.2">KM3</text>
<text x="768" y="388.2" font-size="12.2">F0</text>
<text x="714" y="406.4" font-size="12.2">A401</text>
<text x="781.6" y="406" font-size="12.2">KA</text>
<text x="824.4" y="407.4" font-size="12.2">A402</text>
<text x="755" y="430" font-size="12.2">FR</text>
<text x="794" y="439.6" font-size="12.2">FR</text>
<text x="755" y="452" font-size="12.2">FR</text>
<text x="689" y="454.4" font-size="12.2">C401</text>
<text x="591.6" y="479" font-size="12.2">LH1</text>
<text x="675" y="479" font-size="12.2">LH2</text>
<text x="781.6" y="482.4" font-size="12.2">KM1</text>
<text x="708" y="521.6" font-size="12.2">N401</text>
<text x="784.4" y="518" font-size="12.2">N402</text>
<text x="825.6" y="521" font-size="12.2">KM3</text>
<text x="832.4" y="551.6" font-size="12.2">KT</text>
<text x="621.6" y="618" font-size="12.2">U</text>
<text x="646" y="618" font-size="12.2">V</text>
<text x="669.4" y="618" font-size="12.2">W</text>
<text x="867" y="183.4" font-size="12.2">FU1</text>
<text x="1112.4" y="174.4" font-size="12.2">FU2</text>
<text x="887" y="221" font-size="12.2">1</text>
<text x="935" y="212.6" font-size="12.2">KA</text>
<text x="971.4" y="212.6" font-size="12.2">3</text>
<text x="1026" y="191.6" font-size="12.2">KM2</text>
<text x="1060.6" y="195.6" font-size="12.2">5</text>
<text x="1082.4" y="186.6" font-size="12.2">HR <tspan class="cj">红</tspan></text>
<text x="1144" y="207.6" font-size="12.2">2</text>
<text x="1026" y="225" font-size="12.2">KM3</text>
<text x="1060" y="232.4" font-size="12.2">7</text>
<text x="1083.6" y="223.6" font-size="12.2">HY <tspan class="cj">黄</tspan></text>
<text x="935" y="257.6" font-size="12.2">KM1</text>
<text x="1003.6" y="265.6" font-size="12.2">9</text>
<text x="1083.6" y="256" font-size="12.2">HG <tspan class="cj">绿</tspan></text>
<text x="873" y="307.6" font-size="12.2">SB</text>
<text x="1060.6" y="310" font-size="12.2">KB(<tspan class="cj">温度保险</tspan>)</text>
<text x="1148" y="329" font-size="12.2">4</text>
<text x="1122.4" y="355.6" font-size="12.2">FR</text>
<text x="930.4" y="363" font-size="12.2">SA</text>
<text x="881" y="388" font-size="12.2">11</text>
<text x="968" y="379" font-size="12.2">13</text>
<text x="997.6" y="379" font-size="12.2">KA</text>
<text x="1025.6" y="379" font-size="12.2">15</text>
<text x="1048" y="372" font-size="12.2">KM3</text>
<text x="1081.6" y="379" font-size="12.2">8</text>
<text x="1103" y="379" font-size="12.2">KM1</text>
<text x="1149" y="455" font-size="12.2">6</text>
<text x="996.6" y="415" font-size="12.2">KM3</text>
<text x="931.6" y="443" font-size="12.2">KM2</text>
<text x="988.6" y="448.4" font-size="12.2">17</text>
<text x="1049" y="440" font-size="12.2">KM2</text>
<text x="937.4" y="478.6" font-size="12.2">KM2</text>
<text x="989" y="482.6" font-size="12.2">19</text>
<text x="1077.6" y="477" font-size="12.2">KT</text>
<text x="938" y="507" font-size="12.2">KT</text>
<text x="990.4" y="516.6" font-size="12.2">21</text>
<text x="1066" y="511" font-size="12.2">KA</text>
<text x="941" y="544" font-size="12.2">KA</text>
<text x="941" y="573" font-size="12.2">KA</text>
<text x="971" y="576" font-size="12.2">23</text>
<text x="1016" y="571" font-size="12.2">KM3</text>
<text x="1046.4" y="576" font-size="12.2">25</text>
<text x="1063.6" y="569" font-size="12.2">KM1</text>
<text x="941" y="601.4" font-size="12.2">KM1</text>
<text x="1198" y="262" font-size="12.2">L1</text>
<text x="1257.8" y="262" font-size="12.2">FU3</text>
<text x="1310.5" y="262" font-size="12.2">A621</text>
<text x="1401.2" y="256.5" font-size="12.2">SAC</text>
<text x="1473" y="266.4" font-size="12.2">612</text>
<text x="1198" y="327.7" font-size="12.2">L2</text>
<text x="1257.8" y="327.7" font-size="12.2">FU4</text>
<text x="1310.5" y="327.7" font-size="12.2">B621</text>
<text x="1198" y="392" font-size="12.2">L3</text>
<text x="1257.8" y="392" font-size="12.2">FU5</text>
<text x="1310.5" y="392" font-size="12.2">C621</text>
<text x="1479.6" y="463.3" font-size="12.2">613</text>
<text x="1526" y="376" font-size="12.2">V</text>
<text x="169.7" y="514.96" font-size="11" text-anchor="middle">A</text>
<text x="225" y="555.28" font-size="10.5" text-anchor="middle">3</text>
<text x="257.9" y="555.28" font-size="10.5" text-anchor="middle">4</text>
<text x="449" y="481.28" font-size="10.5" text-anchor="middle">1</text>
<text x="485.4" y="481.28" font-size="10.5" text-anchor="middle">2</text>
<text x="321" y="512.28" font-size="10.5" text-anchor="middle">5</text>
<text x="363.1" y="512.28" font-size="10.5" text-anchor="middle">6</text>
<text x="759.93" y="529.68" font-size="11.5" text-anchor="middle">A</text>
<text x="820.82" y="574.09" font-size="11" text-anchor="middle">3</text>
<text x="857.04" y="574.09" font-size="11" text-anchor="middle">4</text>
<text x="1067.43" y="492.62" font-size="11" text-anchor="middle">1</text>
<text x="1107.51" y="492.62" font-size="11" text-anchor="middle">2</text>
<text x="926.51" y="526.75" font-size="11" text-anchor="middle">5</text>
<text x="972.86" y="526.75" font-size="11" text-anchor="middle">6</text>
<text x="1390.8" y="277.12" font-size="12" text-anchor="middle">1</text>
<text x="1422.2" y="277.12" font-size="12" text-anchor="middle">2</text>
<text x="1390.8" y="341.92" font-size="12" text-anchor="middle">3</text>
<text x="1422.2" y="341.92" font-size="12" text-anchor="middle">4</text>
<text x="1390.8" y="406.72" font-size="12" text-anchor="middle">5</text>
<text x="1422.2" y="406.72" font-size="12" text-anchor="middle">6</text>
<text x="1390.8" y="471.02" font-size="12" text-anchor="middle">7</text>
<text x="1422.2" y="471.02" font-size="12" text-anchor="middle">8</text>
<text x="1510.8" y="374.34" font-size="11.5" text-anchor="middle">V</text>
<text x="125.2" y="634.6" font-size="23" textLength="157.3" lengthAdjust="spacingAndGlyphs" fill="#262626">BQJ-14~95kw</text>
<text x="1183" y="634.6" font-size="23" textLength="183.6" lengthAdjust="spacingAndGlyphs" fill="#262626">BQJ-115~175kw</text>
</svg>
</body></html>
